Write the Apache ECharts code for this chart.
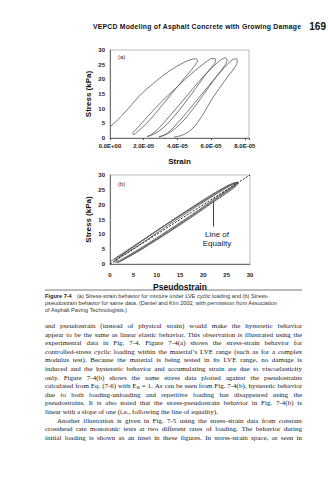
<!DOCTYPE html>
<html>
<head>
<meta charset="utf-8">
<script src="https://cdn.jsdelivr.net/npm/echarts@6.0.0/dist/echarts.min.js"></script>
<style>html,body{margin:0;padding:0;background:#fff;}#c{width:328px;height:480px;}</style>
</head>
<body>
<div id="c"></div>
<script>
// ---------------- data ----------------
const strainTickValues = [0, 2, 4, 6, 8];               // strain in units of 1E-05
const strainTickLabels = ['0.0E+00', '2.0E-05', '4.0E-05', '6.0E-05', '8.0E-05'];
const stressTickValues = [0, 5, 10, 15, 20, 25, 30];    // kPa
const pseudoTickValues = [0, 5, 10, 15, 20, 25, 30];

// (a) stress-strain cycles: [strain (1E-05), stress (kPa)]
const cycleA1 = [[0,3.8],[0.5,6.4],[0.9,8.9],[1.3,11.4],[1.65,13.8],[2.2,16.8],[2.65,19.0],[3.2,21.5],[3.7,23.5],[4.2,25.2],[4.6,26.3],[4.9,26.9],[5.1,27.0],[5.2,26.5],[5.1,25.3],[4.8,23.0],[4.4,20.3],[3.9,16.8],[3.4,13.3],[2.9,9.8],[2.4,6.4],[1.9,3.5],[1.55,1.7],[1.4,1.1]];
const cycleA2 = [[1.4,1.1],[1.35,1.6],[1.6,3.2],[2.0,5.8],[2.5,9.0],[3.0,12.0],[3.5,14.8],[4.0,17.5],[4.5,20.2],[5.0,22.7],[5.4,24.6],[5.8,26.3],[6.05,27.1],[6.25,27.0],[6.25,26.0],[6.0,24.0],[5.6,21.0],[5.1,17.0],[4.6,13.2],[4.1,9.4],[3.6,6.0],[3.1,3.2],[2.6,1.3],[2.2,0.5]];
const cycleA3 = [[2.2,0.5],[2.4,1.0],[2.8,2.8],[3.3,5.9],[3.8,9.2],[4.3,12.6],[4.8,16.0],[5.3,19.4],[5.8,22.5],[6.3,25.3],[6.6,26.7],[6.85,27.3],[6.95,26.6],[6.8,24.6],[6.4,21.6],[5.9,17.6],[5.4,13.6],[4.9,9.7],[4.4,6.2],[3.9,3.4],[3.4,1.4],[2.9,0.4]];
const cycleA4 = [[2.9,0.4],[3.2,0.9],[3.6,2.6],[4.1,5.7],[4.6,9.0],[5.1,12.5],[5.6,16.0],[6.1,19.5],[6.6,22.8],[7.0,25.3],[7.3,26.8],[7.5,27.0],[7.55,26.0],[7.4,24.0],[7.0,21.0],[6.5,17.0],[6.0,12.8],[5.6,8.8],[5.2,5.3],[4.8,2.7],[4.3,1.0],[3.8,0.3]];

// (b) stress-pseudostrain cycles: [pseudostrain, stress (kPa)]
const cycleB1 = [[0,0.8],[2,2.9],[5,6.0],[8,9.1],[11,12.2],[14,15.2],[17,18.2],[20,21.1],[23,24.0],[25.5,26.4],[26.9,27.3],[26.6,26.5],[24.5,24.3],[21.5,21.0],[18.5,17.7],[15.5,14.5],[12.5,11.4],[9.5,8.3],[6.5,5.3],[3.5,2.5],[1.2,0.5]];
const cycleB2 = [[1.2,0.5],[0.9,1.1],[2.6,3.1],[5.6,6.4],[8.6,9.7],[11.6,12.9],[14.6,16.0],[17.6,19.0],[20.6,22.0],[23.6,24.9],[26.0,26.9],[27.2,27.5],[26.8,26.3],[24.7,23.9],[21.7,20.6],[18.7,17.3],[15.7,14.1],[12.7,11.0],[9.7,8.0],[6.7,5.0],[3.7,2.2],[1.6,0.4]];
const cycleB3 = [[1.6,0.4],[1.2,1.3],[3.0,3.6],[6.0,6.9],[9.0,10.1],[12.0,13.3],[15.0,16.5],[18.0,19.6],[21.0,22.6],[24.0,25.4],[26.3,27.2],[27.4,27.6],[26.9,26.6],[24.9,24.4],[21.9,21.1],[18.9,17.8],[15.9,14.6],[12.9,11.5],[9.9,8.4],[6.9,5.4],[3.9,2.6],[1.9,0.6]];
const cycleB4 = [[1.9,0.6],[1.5,1.2],[3.4,3.5],[6.4,6.6],[9.4,9.8],[12.4,13.0],[15.4,16.1],[18.4,19.2],[21.4,22.2],[24.4,25.1],[26.6,27.0],[27.5,27.2],[27.0,26.2],[25.0,23.9],[22.0,20.7],[19.0,17.4],[16.0,14.2],[13.0,11.1],[10.0,8.1],[7.0,5.1],[4.0,2.4],[2.2,0.9]];
const equalityLine = [[0,0],[30,30]];
const arrowFrom = [22.1, 12.6];
const arrowTo = [22.1, 21.0];

// ---------------- texts ----------------
const headerText = 'VEPCD Modeling of Asphalt Concrete with Growing Damage';
const pageNumber = '169';
const captionLabel = 'Figure 7-4';
const captionLines = [
  '(a) Stress-strain behavior for mixture under LVE cyclic loading and (b) Stress-',
  'pseudostrain behavior for same data. (Daniel and Kim 2002, with permission from Association',
  'of Asphalt Paving Technologists.)'
];
const bodyLines = [
  'and pseudostrain (instead of physical strain) would make the hysteretic behavior',
  'appear to be the same as linear elastic behavior. This observation is illustrated using the',
  'experimental data in Fig. 7-4. Figure 7-4(a) shows the stress-strain behavior for',
  'controlled-stress cyclic loading within the material\u2019s LVE range (such as for a complex',
  'modulus test). Because the material is being tested in its LVE range, no damage is',
  'induced and the hysteretic behavior and accumulating strain are due to viscoelasticity',
  'only. Figure 7-4(b) shows the same stress data plotted against the pseudostrains',
  'calculated from Eq. (7-6) with E_R = 1. As can be seen from Fig. 7-4(b), hysteretic behavior',
  'due to both loading-unloading and repetitive loading has disappeared using the',
  'pseudostrains. It is also noted that the stress-pseudostrain behavior in Fig. 7-4(b) is',
  'linear with a slope of one (i.e., following the line of equality).',
  'Another illustration is given in Fig. 7-5 using the stress-strain data from constant',
  'crosshead rate monotonic tests at two different rates of loading. The behavior during',
  'initial loading is shown as an inset in these figures. In stress-strain space, as seen in'
];
const bodyJustified = [1,1,1,1,1,1,1,1,1,1,0,1,1,1];
const bodyIndent = [0,0,0,0,0,0,0,0,0,0,0,1,0,0];

// ---------------- layout helpers ----------------
const mctx = document.createElement('canvas').getContext('2d');
function tw(t, font) { mctx.font = font; return mctx.measureText(t).width; }
function txt(x, y, text, font, fill, align) {
  return { type: 'text', x: x, y: y, silent: true,
    style: { text: text, font: font, fill: fill || '#222', textAlign: align || 'left', align: align || 'left',
             textVerticalAlign: 'middle', verticalAlign: 'middle' } };
}
function spreadChars(text, x0, x1, y, font, fill) {
  const chars = text.split('');
  const ws = chars.map(c => tw(c, font));
  const total = ws.reduce((a, b) => a + b, 0);
  const extra = (x1 - x0 - total) / (chars.length - 1);
  const out = []; let x = x0;
  chars.forEach((c, i) => { if (c !== ' ') out.push(txt(x, y, c, font, fill)); x += ws[i] + extra; });
  return out;
}
function justifyLine(line, x0, x1, y, font, fill, justify) {
  const words = line.split(' ');
  const subFont = font.replace(/([\d.]+)px/, (m, s) => (parseFloat(s) * 0.7).toFixed(2) + 'px');
  const ws = words.map(w => w === 'E_R' ? tw('E', font) + tw('R', subFont) : tw(w, font));
  const total = ws.reduce((a, b) => a + b, 0);
  let gap = tw(' ', font);
  if (justify && words.length > 1) gap = Math.max(0.6, (x1 - x0 - total) / (words.length - 1));
  const out = []; let x = x0;
  words.forEach((w, i) => {
    if (w === 'E_R') {
      out.push(txt(x, y, 'E', font, fill));
      out.push(txt(x + tw('E', font), y + 1.6, 'R', subFont, fill));
    } else out.push(txt(x, y, w, font, fill));
    x += ws[i] + gap;
  });
  return out;
}

// ---------------- graphic texts ----------------
const graphics = [];
graphics.push(...spreadChars(headerText, 93, 301, 26, 'bold 6.8px "Liberation Sans"', '#111'));
graphics.push(txt(326, 26, pageNumber, 'bold 10px "Liberation Sans"', '#111', 'right'));
graphics.push(txt(118, 57, '(a)', '6px "Liberation Sans"', '#333'));
graphics.push(txt(118, 184, '(b)', '6px "Liberation Sans"', '#333'));
graphics.push(txt(217, 234, 'Line of', '8px "Liberation Sans"', '#222', 'center'));
graphics.push(txt(217, 243, 'Equality', '8px "Liberation Sans"', '#222', 'center'));
graphics.push({ type: 'line', silent: true, shape: { x1: 45, y1: 290, x2: 302, y2: 290 }, style: { stroke: '#555', lineWidth: 0.8 } });
const capFont = '5.6px "Liberation Sans"';
graphics.push(txt(45, 296, captionLabel, 'bold 5.6px "Liberation Sans"', '#222'));
graphics.push(txt(77, 296, captionLines[0], capFont, '#333'));
graphics.push(txt(45, 302.8, captionLines[1], capFont, '#333'));
graphics.push(txt(45, 309.6, captionLines[2], capFont, '#333'));
const bodyFont = '7px "Liberation Serif"';
bodyLines.forEach((l, i) => {
  const x0 = bodyIndent[i] ? 57 : 45;
  graphics.push(...justifyLine(l, x0, 302, 326 + i * 8.6, bodyFont, '#1a1a1a', bodyJustified[i]));
});

// ---------------- chart ----------------
const axisLabelStyle = { color: '#222', fontFamily: 'Liberation Sans', fontWeight: 'bold', fontSize: 6 };
const nameStyle = { color: '#111', fontFamily: 'Liberation Sans', fontWeight: 'bold', fontSize: 8 };
function loopSeries(data, xi) {
  return { type: 'line', xAxisIndex: xi, yAxisIndex: xi, data: data, smooth: 0.35, showSymbol: false,
           symbol: 'none', silent: true, lineStyle: { color: '#555', width: 0.8 }, z: 3 };
}

const option = {
  animation: false,
  backgroundColor: '#fff',
  grid: [
    { left: 110, top: 50, width: 139, height: 88, show: true, borderColor: '#aaa', borderWidth: 0.8 },
    { left: 110, top: 175, width: 140, height: 89, show: true, borderColor: '#aaa', borderWidth: 0.8 }
  ],
  xAxis: [
    { type: 'value', gridIndex: 0, min: 0, max: 8.25, interval: 2, name: 'Strain', nameLocation: 'middle', nameGap: 19,
      nameTextStyle: nameStyle, splitLine: { show: false },
      axisLine: { lineStyle: { color: '#555', width: 0.8 } }, axisTick: { show: true, length: 2, lineStyle: { color: '#555' } },
      axisLabel: Object.assign({ margin: 5, showMaxLabel: true,
        formatter: v => { const k = strainTickValues.indexOf(v); return k >= 0 ? strainTickLabels[k] : ''; } }, axisLabelStyle) },
    { type: 'value', gridIndex: 1, min: 0, max: 30, interval: 5, name: 'Pseudostrain', nameLocation: 'middle', nameGap: 18,
      nameTextStyle: Object.assign({}, nameStyle, { fontSize: 8.5 }), splitLine: { show: false },
      axisLine: { lineStyle: { color: '#555', width: 0.8 } }, axisTick: { show: false },
      axisLabel: Object.assign({ margin: 8, formatter: v => pseudoTickValues.indexOf(v) >= 0 ? String(v) : '' }, axisLabelStyle) }
  ],
  yAxis: [
    { type: 'value', gridIndex: 0, min: 0, max: 30, interval: 5, name: 'Stress (kPa)', nameLocation: 'middle', nameGap: 18,
      nameTextStyle: nameStyle, splitLine: { show: false },
      axisLine: { show: true, lineStyle: { color: '#555', width: 0.8 } }, axisTick: { show: false },
      axisLabel: Object.assign({ margin: 5, formatter: v => stressTickValues.indexOf(v) >= 0 ? String(v) : '' }, axisLabelStyle) },
    { type: 'value', gridIndex: 1, min: 0, max: 30, interval: 5, name: 'Stress (kPa)', nameLocation: 'middle', nameGap: 18,
      nameTextStyle: nameStyle, splitLine: { show: false },
      axisLine: { show: true, lineStyle: { color: '#555', width: 0.8 } }, axisTick: { show: false },
      axisLabel: Object.assign({ margin: 5, formatter: v => stressTickValues.indexOf(v) >= 0 ? String(v) : '' }, axisLabelStyle) }
  ],
  series: [
    loopSeries(cycleA1, 0), loopSeries(cycleA2, 0), loopSeries(cycleA3, 0), loopSeries(cycleA4, 0),
    loopSeries(cycleB1, 1), loopSeries(cycleB2, 1), loopSeries(cycleB3, 1), loopSeries(cycleB4, 1),
    { type: 'line', xAxisIndex: 1, yAxisIndex: 1, data: equalityLine, showSymbol: false, symbol: 'none', silent: true, z: 4,
      lineStyle: { color: '#000', width: 0.9, type: [2, 1.5] },
      markLine: { silent: true, symbol: ['none', 'arrow'], symbolSize: [0, 5], label: { show: false },
        lineStyle: { color: '#111', width: 0.8, type: 'solid' },
        data: [[{ coord: arrowFrom }, { coord: arrowTo }]] } }
  ],
  graphic: graphics
};

const chart = echarts.init(document.getElementById('c'), null, { renderer: 'svg', width: 328, height: 480 });
chart.setOption(option);
</script>
</body>
</html>
